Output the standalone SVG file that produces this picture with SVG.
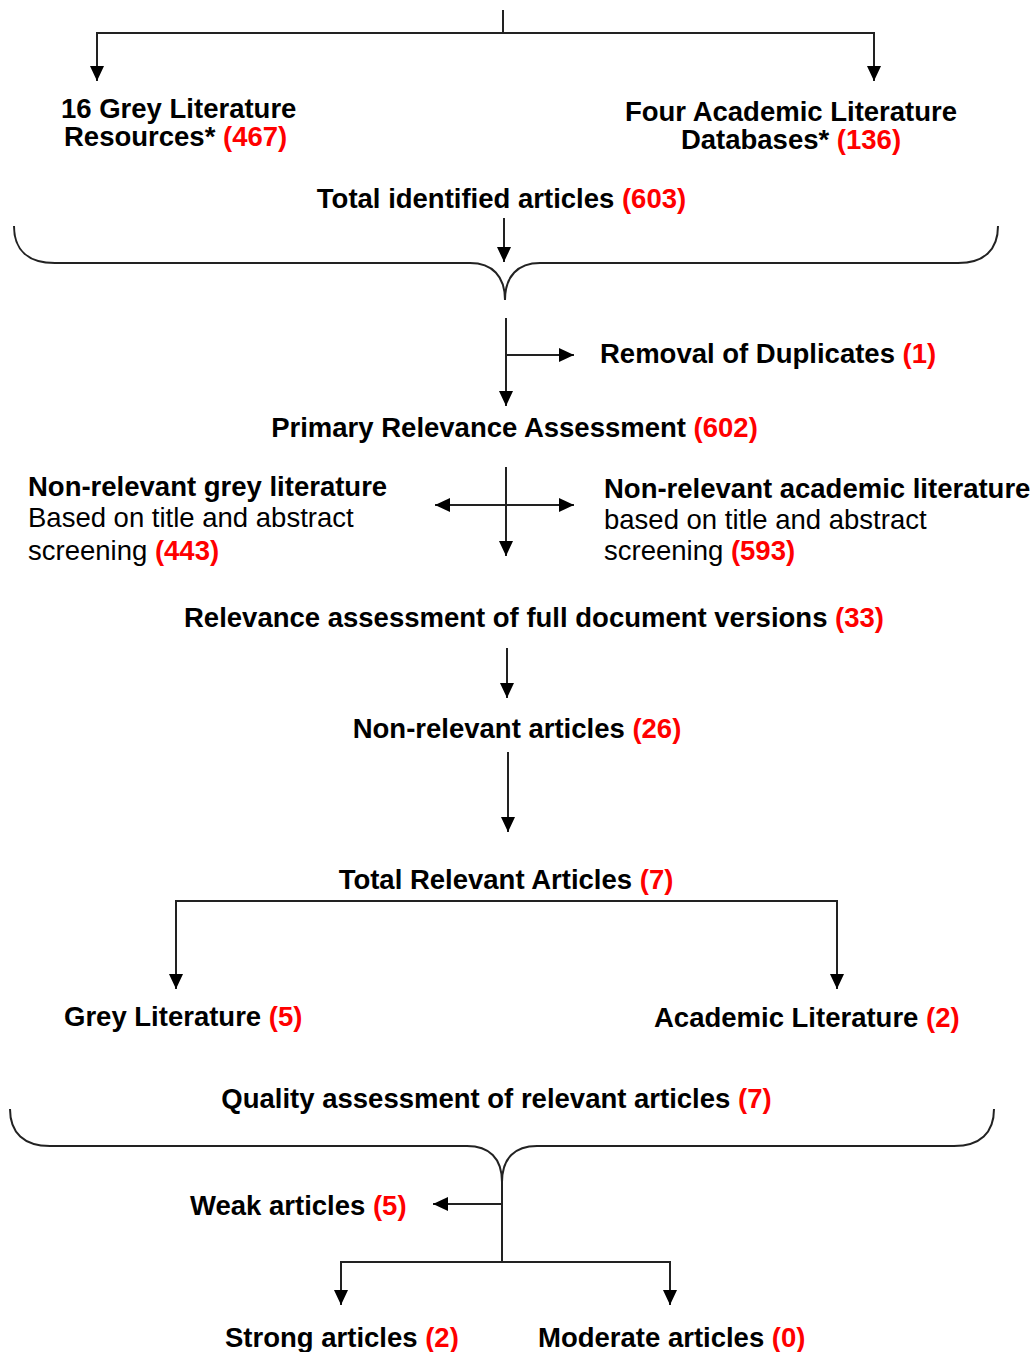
<svg xmlns="http://www.w3.org/2000/svg" width="1034" height="1352" viewBox="0 0 1034 1352">
<style>
  text { font-family: "Liberation Sans", Arial, sans-serif; font-size: 27.5px; fill: #000; }
  .b { font-weight: bold; }
  .r { fill: #ff0000; font-weight: bold; }
  .m { text-anchor: middle; }
  .ln { fill: none; stroke: #222; stroke-width: 2; }
  .arr { marker-end: url(#ah); }
</style>
<defs>
  <marker id="ah" markerUnits="userSpaceOnUse" markerWidth="15" markerHeight="14" refX="15" refY="7" orient="auto">
    <path d="M0,0 L15,7 L0,14 z" fill="#000"/>
  </marker>
</defs>
<rect width="1034" height="1352" fill="#fff"/>
<g id="connectors">
  <path class="ln" d="M503,10 V33"/>
  <path class="ln arr" d="M503,33 H97 V81"/>
  <path class="ln arr" d="M503,33 H874 V81"/>
  <path class="ln arr" d="M504,218 V262"/>
  <path class="ln" d="M14,226 C14,250 28,263 55,263 L470,263 C492,263 505,276 505,300 C505,276 518,263 540,263 L958,263 C984,263 998,250 998,226"/>
  <path class="ln arr" d="M506,318 V406"/>
  <path class="ln arr" d="M506,355 H574"/>
  <path class="ln arr" d="M506,467 V556"/>
  <path class="ln arr" d="M506,505 H435"/>
  <path class="ln arr" d="M506,505 H574"/>
  <path class="ln arr" d="M507,648 V698"/>
  <path class="ln arr" d="M508,752 V832"/>
  <path class="ln arr" d="M506,901 H176 V989"/>
  <path class="ln arr" d="M506,901 H837 V989"/>
  <path class="ln" d="M10,1109 C10,1133 24,1146 50,1146 L467,1146 C489,1146 502,1158 502,1182 C502,1158 515,1146 537,1146 L954,1146 C980,1146 994,1133 994,1109"/>
  <path class="ln" d="M502,1182 V1262"/>
  <path class="ln arr" d="M502,1204 H433"/>
  <path class="ln arr" d="M502,1262 H341 V1305"/>
  <path class="ln arr" d="M502,1262 H670 V1305"/>
</g>
<g id="grey-resources">
  <text class="b" x="61" y="117.5">16 Grey Literature</text>
  <text class="b" x="64" y="145.5">Resources* <tspan class="r">(467)</tspan></text>
</g>
<g id="academic-databases">
  <text class="b m" x="791" y="120.5">Four Academic Literature</text>
  <text class="b m" x="791" y="148.5">Databases* <tspan class="r">(136)</tspan></text>
</g>
<g id="total-identified">
  <text class="b m" x="501.5" y="207.5">Total identified articles <tspan class="r">(603)</tspan></text>
</g>
<g id="duplicates">
  <text class="b" x="600" y="362.5">Removal of Duplicates <tspan class="r">(1)</tspan></text>
</g>
<g id="primary-relevance">
  <text class="b m" x="514.5" y="436.5">Primary Relevance Assessment <tspan class="r">(602)</tspan></text>
</g>
<g id="nonrelevant-grey">
  <text class="b" x="28" y="495.5">Non-relevant grey literature</text>
  <text x="28" y="526.5">Based on title and abstract</text>
  <text x="28" y="559.5">screening <tspan class="r">(443)</tspan></text>
</g>
<g id="nonrelevant-academic">
  <text class="b" x="604" y="497.5">Non-relevant academic literature</text>
  <text x="604" y="528.5">based on title and abstract</text>
  <text x="604" y="559.5">screening <tspan class="r">(593)</tspan></text>
</g>
<g id="full-document">
  <text class="b m" x="534" y="626.5">Relevance assessment of full document versions <tspan class="r">(33)</tspan></text>
</g>
<g id="nonrelevant-articles">
  <text class="b m" x="517" y="737.5">Non-relevant articles <tspan class="r">(26)</tspan></text>
</g>
<g id="total-relevant">
  <text class="b m" x="506" y="888.5">Total Relevant Articles <tspan class="r">(7)</tspan></text>
</g>
<g id="grey-literature">
  <text class="b" x="64" y="1025.5">Grey Literature <tspan class="r">(5)</tspan></text>
</g>
<g id="academic-literature">
  <text class="b" x="654" y="1026.5">Academic Literature <tspan class="r">(2)</tspan></text>
</g>
<g id="quality-assessment">
  <text class="b m" x="496.5" y="1107.5">Quality assessment of relevant articles <tspan class="r">(7)</tspan></text>
</g>
<g id="weak">
  <text class="b" x="190" y="1214.5">Weak articles <tspan class="r">(5)</tspan></text>
</g>
<g id="strong">
  <text class="b" x="225" y="1346.5">Strong articles <tspan class="r">(2)</tspan></text>
</g>
<g id="moderate">
  <text class="b" x="538" y="1346.5">Moderate articles <tspan class="r">(0)</tspan></text>
</g>
</svg>
